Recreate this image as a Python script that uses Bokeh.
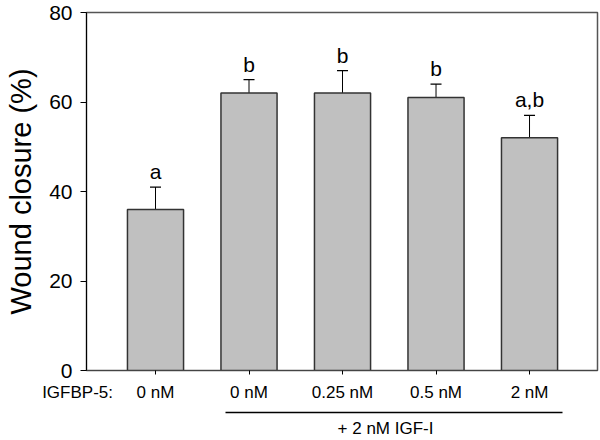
from bokeh.plotting import figure
from bokeh.models import (ColumnDataSource, Range1d, FixedTicker, LinearAxis,
                          Whisker, TeeHead)
from bokeh.core.properties import value
from bokeh.embed import file_html
from bokeh.resources import INLINE

# ---- data ----
positions = [1, 2, 3, 4, 5]
doses = ["0 nM", "0 nM", "0.25 nM", "0.5 nM", "2 nM"]
closure = [36, 62, 62, 61, 52]
sem = [5, 3, 5, 3, 5]
letters = ["a", "b", "b", "b", "a,b"]
y_ticks = [0, 20, 40, 60, 80]
treatment_label = "IGFBP-5:"
igf_label = "+ 2 nM IGF-I"

FONT = "Liberation Sans"
NB = "\u00a0"

upper = [c + e for c, e in zip(closure, sem)]
src = ColumnDataSource(dict(x=positions, top=closure, upper=upper, letters=letters))

p = figure(width=600, height=440, output_backend="svg", toolbar_location=None,
           x_range=Range1d(0.262, 5.727), y_range=Range1d(0, 80),
           min_border_left=86, min_border_right=3, min_border_top=12,
           min_border_bottom=68, x_axis_type=None)
p.background_fill_color = "white"
p.border_fill_color = "white"
p.grid.visible = False
p.outline_line_color = "#555555"
p.outline_line_width = 1.5

# bars
p.vbar(x="x", top="top", width=0.6, bottom=0, source=src,
       fill_color="#c0c0c0", line_color="#333333", line_width=1.5)

# error bars (upper only)
w = Whisker(source=src, base="x", lower="top", upper="upper",
            line_color="black", line_width=1,
            upper_head=TeeHead(size=11, line_color="black", line_width=1.2),
            lower_head=None)
p.add_layout(w)

# significance letters
p.text(x="x", y="upper", text="letters", source=src, y_offset=-4,
       text_align="center", text_baseline="bottom",
       text_font=value(FONT), text_font_size="21px", text_color="black")

# y axis
ya = p.yaxis[0]
ya.ticker = FixedTicker(ticks=y_ticks)
ya.axis_label = "Wound closure (%)"
ya.axis_label_text_font = FONT
ya.axis_label_text_font_size = "29px"
ya.axis_label_text_font_style = "normal"
ya.axis_label_text_color = "black"
ya.axis_label_standoff = 9
ya.major_label_text_font = FONT
ya.major_label_text_font_size = "21px"
ya.major_label_text_color = "black"
ya.major_label_standoff = 8
ya.major_tick_out = 6
ya.major_tick_in = 0
ya.minor_tick_out = 0
ya.minor_tick_in = 0
ya.axis_line_color = "black"
ya.major_tick_line_color = "black"

# x axis with dose labels; the first one also carries the "IGFBP-5:" row label,
# padded with non-breaking spaces so that the dose text stays centred on its bar
dose_labels = list(doses)
dose_labels[0] = treatment_label + NB * 5 + doses[0] + NB * 20
xa = LinearAxis(ticker=FixedTicker(ticks=positions),
                major_label_overrides={pos: d for pos, d in zip(positions, dose_labels)})
xa.major_label_text_font = FONT
xa.major_label_text_font_size = "17px"
xa.major_label_text_color = "black"
xa.major_label_standoff = 8
xa.major_tick_out = 4
xa.major_tick_in = 0
xa.minor_tick_out = 0
xa.minor_tick_in = 0
xa.axis_line_color = "#444444"
xa.axis_line_width = 1.2
xa.axis_label = NB
xa.axis_label_text_font_size = "4px"
xa.axis_label_standoff = 0
p.add_layout(xa, "below")

# underline + IGF-I label
igf_pos = 3.46
xb = LinearAxis(ticker=FixedTicker(ticks=[igf_pos]),
                major_label_overrides={igf_pos: igf_label},
                bounds=(1.749, 5.353))
xb.major_label_text_font = FONT
xb.major_label_text_font_size = "17px"
xb.major_label_text_color = "black"
xb.major_label_standoff = 6
xb.major_tick_out = 0
xb.major_tick_in = 0
xb.minor_tick_out = 0
xb.minor_tick_in = 0
xb.axis_line_color = "black"
xb.axis_line_width = 1.5
p.add_layout(xb, "below")

open("out.html", "w").write(file_html(p, INLINE))
